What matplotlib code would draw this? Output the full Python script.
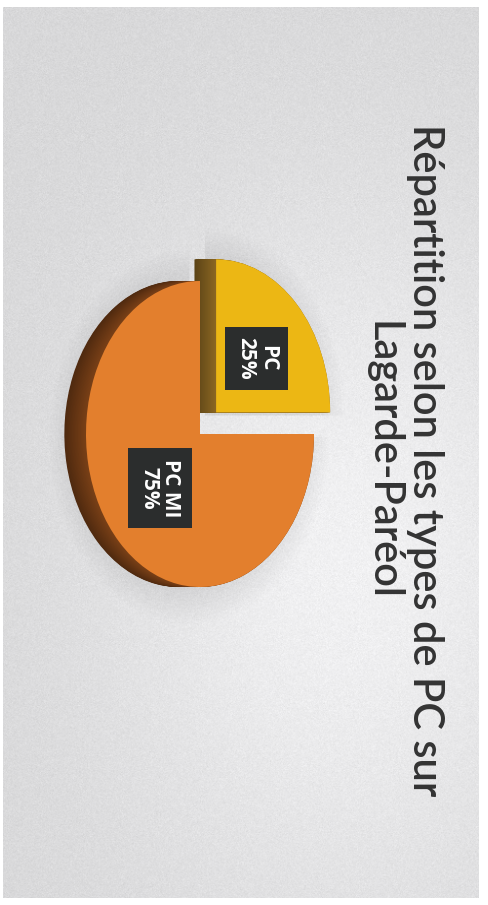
import numpy as np
import matplotlib
matplotlib.use("Agg")
import matplotlib.pyplot as plt
from matplotlib.colors import to_rgb

# ---- data ----
categories = ["PC", "PC MI"]
shares = [25, 75]
face_colors = ["#ECB714", "#E37F2D"]
side_colors = ["#7A5A1E", "#6A3814"]
title = "Répartition selon les types de PC sur\nLagarde-Paréol"

W, H, DPI = 488, 905, 100
fig = plt.figure(figsize=(W / DPI, H / DPI), dpi=DPI)
fig.patch.set_facecolor("white")

# ---- page background (scanned grey panel with a lighter area) ----
ax_bg = fig.add_axes([0, 0, 1, 1])
ax_bg.set_xlim(0, W)
ax_bg.set_ylim(H, 0)
ax_bg.axis("off")
yy, xx = np.mgrid[0:H, 0:W]
glow = np.exp(-(((xx - 350) / 250.0) ** 2 + ((yy - 560) / 360.0) ** 2))
shade = 0.845 + 0.10 * glow
rng = np.random.default_rng(3)
shade = shade + rng.normal(0, 0.014, shade.shape)
img = np.dstack([shade, shade, shade * 1.006]).clip(0, 1)
ax_bg.imshow(img, extent=(3, 479, 898, 8), zorder=0, interpolation="bilinear")

# ---- pie (drawn in its own axes so it can be stretched into an ellipse) ----
cx, cy, rx, ry = 200, 434, 114, 153   # pixel centre and half-axes of the face
lim = 1.6
pw, ph = 2 * lim * rx, 2 * lim * ry
ax = fig.add_axes([(cx - pw / 2) / W, (H - (cy + ph / 2)) / H, pw / W, ph / H])
ax.axis("off")

explode = [0.2, 0.0]
depth = 0.19
n_layers = 30

# soft shadow around the disc
for k in range(10):
    s = 1.0 + 0.025 * k
    ax.pie(shares, radius=s, startangle=0, counterclock=True,
           center=(-depth * 0.5, -0.02), explode=explode,
           colors=[(0.5, 0.5, 0.5, 0.016)] * 2,
           wedgeprops=dict(linewidth=0))

# thickness of the disc: stacked, progressively lighter copies moving right
for i in range(n_layers):
    t = i / (n_layers - 1)
    off = -depth * (1 - t)
    cols = []
    for c in side_colors:
        r, g, b = to_rgb(c)
        f = 0.75 + 0.40 * t
        cols.append((min(r * f, 1), min(g * f, 1), min(b * f, 1)))
    ax.pie(shares, startangle=0, counterclock=True, center=(off, 0),
           explode=explode, colors=cols, wedgeprops=dict(linewidth=0))

# top face with labels
labels = [f"{c}\n{v}%" for c, v in zip(categories, shares)]
wedges, texts = ax.pie(shares, startangle=0, counterclock=True,
                       explode=explode, colors=face_colors,
                       labels=labels, labeldistance=0.5,
                       wedgeprops=dict(linewidth=0))
for t in texts:
    t.set_ha("center")
    t.set_va("center")
    t.set_rotation(-90)
    t.set_multialignment("center")
    t.set_color("white")
    t.set_fontsize(15)
    t.set_fontweight("bold")
    t.set_fontfamily(["Open Sans", "DejaVu Sans"])
    t.set_linespacing(1.05)
    t.set_bbox(dict(boxstyle="square,pad=0.5", facecolor="#2B2D2D",
                    edgecolor="none"))

ax.set_aspect("auto")
ax.set_xlim(-lim, lim)
ax.set_ylim(-lim, lim)

# ---- title, running down the right side ----
ax_bg.text(404, 460, title, rotation=-90, ha="center", va="center",
           multialignment="center", fontsize=30, color="#333333",
           fontweight="semibold",
           family=["Lato", "DejaVu Sans"], linespacing=1.15, zorder=5)

fig.savefig("out.png", dpi=DPI)
